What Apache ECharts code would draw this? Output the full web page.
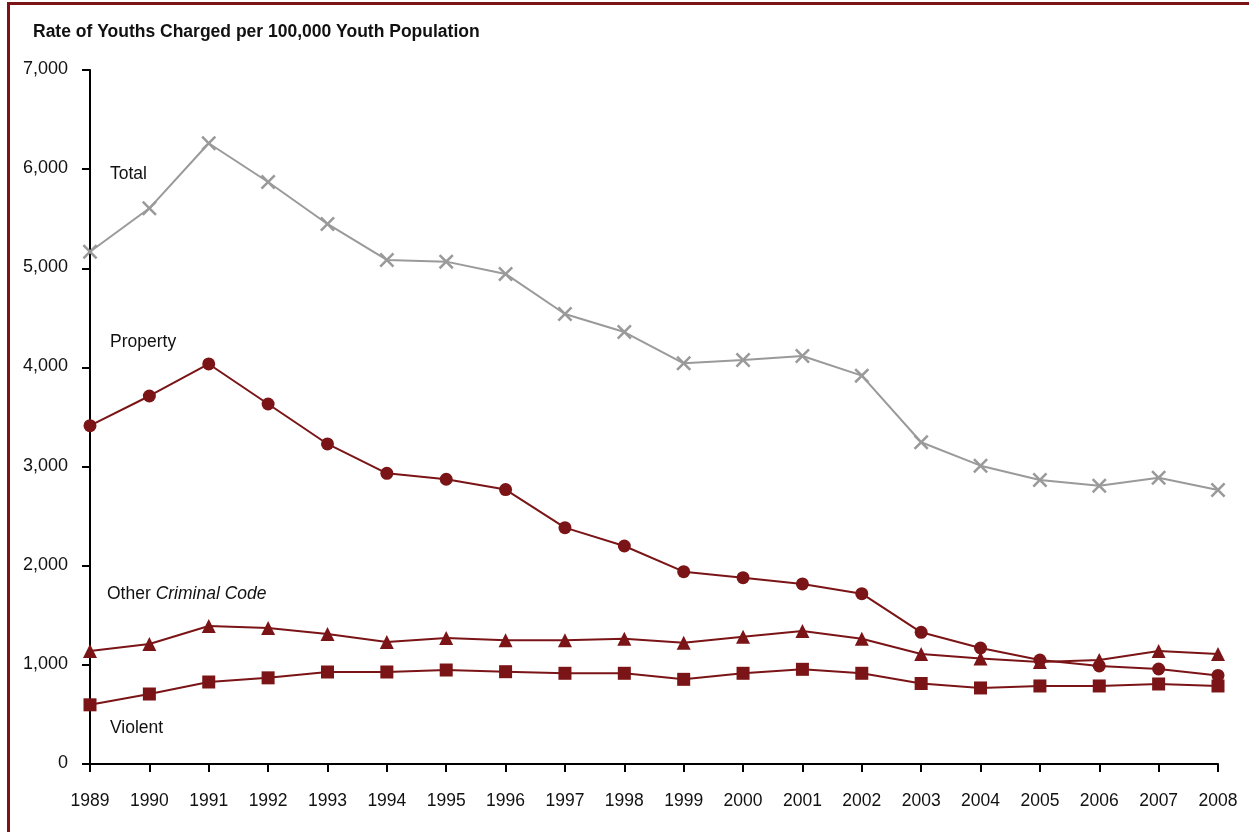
<!DOCTYPE html>
<html>
<head>
<meta charset="utf-8">
<script src="https://cdn.jsdelivr.net/npm/echarts@6/dist/echarts.min.js"></script>
<style>
html,body{margin:0;padding:0;background:#fff;}
#chart{width:1249px;height:832px;}
</style>
</head>
<body>
<div id="chart"></div>
<script>
const years = ['1989','1990','1991','1992','1993','1994','1995','1996','1997','1998','1999','2000','2001','2002','2003','2004','2005','2006','2007','2008'];
const total = [5167,5605,6261,5870,5447,5084,5067,4943,4539,4357,4042,4075,4115,3917,3245,3009,2865,2807,2888,2764];
const property = [3413,3712,4035,3631,3228,2932,2872,2768,2384,2199,1940,1879,1816,1718,1328,1170,1049,989,958,893];
const otherCC = [1140,1211,1392,1372,1311,1231,1271,1248,1248,1264,1224,1284,1342,1264,1110,1064,1029,1049,1140,1110];
const violent = [597,706,827,869,928,928,948,931,915,915,854,915,955,915,812,767,787,787,807,787];
const yTicks = [0,1000,2000,3000,4000,5000,6000,7000];

const FONT = '"Liberation Sans",Arial,sans-serif';
const RED = '#7B1416';
const GRAY = '#9A9A9A';
const crossPath = 'path://M0,1.2 L1.2,0 L5,3.8 L8.8,0 L10,1.2 L6.2,5 L10,8.8 L8.8,10 L5,6.2 L1.2,10 L0,8.8 L3.8,5 Z';

const chart = echarts.init(document.getElementById('chart'), null, {renderer:'canvas'});
const lineSeries = (name, data, color, symbol, size) => ({
  name, type:'line', data, symbol, symbolSize:size, showAllSymbol:true,
  lineStyle:{color, width:2}, itemStyle:{color, opacity:1},
  emphasis:{disabled:true}, animation:false
});
chart.setOption({
  animation:false,
  backgroundColor:'#fff',
  grid:{left:90, right:31, top:70, bottom:68, containLabel:false},
  xAxis:{
    type:'category', data:years, boundaryGap:false,
    axisLine:{lineStyle:{color:'#000', width:2}},
    axisTick:{show:true, length:8, inside:false, lineStyle:{color:'#000', width:2}},
    axisLabel:{color:'#111', fontFamily:FONT, fontSize:17.5, margin:28},
    splitLine:{show:false}
  },
  yAxis:{
    type:'value', min:yTicks[0], max:yTicks[yTicks.length-1], interval:1000,
    axisLine:{show:true, lineStyle:{color:'#000', width:2}},
    axisTick:{show:true, length:8, lineStyle:{color:'#000', width:2}},
    axisLabel:{color:'#111', fontFamily:FONT, fontSize:18, margin:22, verticalAlign:'bottom', padding:[0,0,-8,0],
      formatter:v => v.toLocaleString('en-US')},
    splitLine:{show:false}
  },
  series:[
    lineSeries('Total', total, GRAY, crossPath, 15),
    lineSeries('Property', property, RED, 'circle', 13),
    lineSeries('Other Criminal Code', otherCC, RED, 'triangle', 14),
    lineSeries('Violent', violent, RED, 'rect', 13)
  ],
  graphic:[
    {type:'rect', left:6, top:1, shape:{width:1260, height:860},
      style:{fill:'none', stroke:RED, lineWidth:3}, silent:true},
    {type:'text', left:33, top:23, style:{text:'Rate of Youths Charged per 100,000 Youth Population',
      font:'bold 17.5px ' + FONT, fill:'#111'}},
    {type:'text', left:110, top:165, style:{text:'Total', font:'17.5px ' + FONT, fill:'#111'}},
    {type:'text', left:110, top:333, style:{text:'Property', font:'17.5px ' + FONT, fill:'#111'}},
    {type:'text', left:107, top:585, style:{text:'Other {i|Criminal Code}', font:'17.5px ' + FONT, fill:'#111',
      rich:{i:{fontStyle:'italic', fontFamily:FONT, fontSize:17.5, fill:'#111'}}}},
    {type:'text', left:110, top:719, style:{text:'Violent', font:'17.5px ' + FONT, fill:'#111'}}
  ]
});
</script>
</body>
</html>
